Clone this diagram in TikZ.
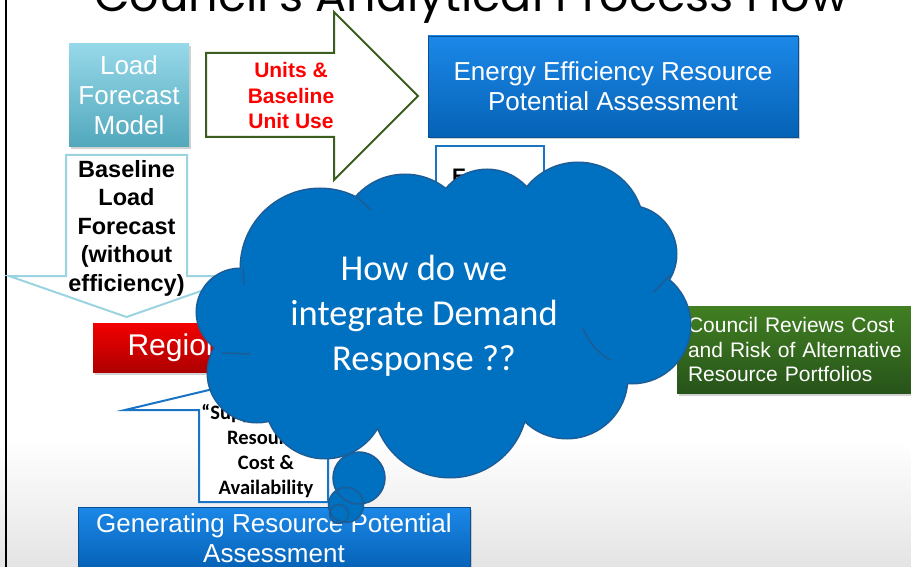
\documentclass[tikz,border=0pt]{standalone}
\usepackage{fontspec}
\setmainfont{Liberation Sans}
\newfontfamily\carlito{Carlito}
\newfontfamily\titlefont{Poppins}
\usetikzlibrary{shadows}
\definecolor{bluetop}{HTML}{1C88E8}
\definecolor{bluebot}{HTML}{0562B6}
\definecolor{blueedge}{HTML}{0A4F8F}
\definecolor{loadtop}{HTML}{96D8E9}
\definecolor{loadbot}{HTML}{52A8BC}
\definecolor{redtop}{HTML}{F20000}
\definecolor{redbot}{HTML}{AE0000}
\definecolor{greentop}{HTML}{417F22}
\definecolor{greenbot}{HTML}{27541A}
\definecolor{arrowgreen}{HTML}{3B5E1F}
\definecolor{arrowcyan}{HTML}{9CD3E0}
\definecolor{arrowblue}{HTML}{1A74C6}
\definecolor{cloudfill}{HTML}{0070C0}
\definecolor{cloudedge}{HTML}{1E5C96}
\definecolor{bggray}{HTML}{E4E4E4}
\definecolor{unitred}{HTML}{FF0000}
\newcommand\cloudlist{240/312/43, 320/268/79, 405/240/65, 487/223/53, 578/228/65, 628/254/48, 632/325/58, 567/378/60, 450/400/77, 325/398/60, 257/373/49}
\begin{document}
\begin{tikzpicture}[x=1pt,y=-1pt,
  box/.style={inner sep=0pt, align=center, text=white,
    drop shadow={shadow xshift=1.5pt,shadow yshift=-2.5pt,opacity=0.35}},
  bluebox/.style={box, top color=bluetop, bottom color=bluebot, draw=blueedge, line width=0.6pt},
  bigtext/.style={font=\fontsize{26}{30}\selectfont},
  arrowtext/.style={align=center, inner sep=0pt, font=\bfseries\fontsize{23.5}{28.5}\selectfont},
  blockarrow/.style={fill=white, line width=2pt, line join=miter},
]
\useasboundingbox (0,0) rectangle (911,567);
\fill[white] (0,0) rectangle (911,567);
\shade[top color=white, bottom color=bggray] (0,440) rectangle (911,567);
\draw[line width=2pt] (6,-2) -- (6,569);

% title
\node[anchor=base west, inner sep=0pt] (title) at (94,12)
  {\resizebox{754pt}{!}{\titlefont Council’s Analytical Process Flow}};

% boxes
\node[box, bigtext, top color=loadtop, bottom color=loadbot, minimum width=120, minimum height=103] (load) at (129,95.5)
  {Load\\Forecast\\Model};
\node[bluebox, bigtext, minimum width=370, minimum height=101] (ee) at (613,86.5)
  {Energy Efficiency Resource\\Potential Assessment};
\node[bluebox, bigtext, minimum width=392, minimum height=62] (gen) at (274,538)
  {Generating Resource Potential\\Assessment};
\node[box, font=\fontsize{30}{34}\selectfont, top color=redtop, bottom color=redbot, minimum width=396, minimum height=49] (rpm) at (291,347.5)
  {Regional Portfolio Model};
\node[box, font=\fontsize{21}{24.5}\selectfont, top color=greentop, bottom color=greenbot,
  minimum width=248, minimum height=87, text width=226, inner xsep=11pt, align=left] (council) at (801,349.5)
  {Council Reviews Cost\\and Risk of Alternative\\Resource Portfolios};

% small box behind cloud
\draw[arrowblue, line width=2pt, fill=white] (436,146) rectangle (544,262);
\node[anchor=base west, inner sep=0pt, font=\bfseries\fontsize{21}{25}\selectfont] (etext) at (452,184) {E};

% block arrows
\draw[blockarrow, draw=arrowgreen] (206,53) -- (334,53) -- (334,12) -- (418,96) -- (334,180) -- (334,137) -- (206,137) -- cycle;
\node[arrowtext, text=unitred, font=\bfseries\fontsize{21}{25.5}\selectfont] (units) at (291,95.5) {Units \&\\Baseline\\Unit Use};

\draw[blockarrow, draw=arrowcyan] (66,155) -- (187,155) -- (187,276) -- (244,276) -- (126.5,317) -- (9,276) -- (66,276) -- cycle;
\node[arrowtext] (baseline) at (126.5,228) {Baseline\\Load\\Forecast\\(without\\efficiency)};

\draw[blockarrow, draw=arrowblue] (199,502) -- (199,410) -- (125,410) -- (263.5,377) -- (402,410) -- (328,410) -- (328,502) -- cycle;
\node[align=center, inner sep=0pt, font=\carlito\bfseries\fontsize{20.5}{25}\selectfont] (supply) at (266,451)
  {“Supply Curve”\\Resource\\Cost \&\\Availability};

% cloud: union of puffs
\draw[cloudedge, line width=3pt] foreach \x/\y/\r in \cloudlist {(\x,\y) circle (\r pt)};
\fill[cloudfill] foreach \x/\y/\r in \cloudlist {(\x,\y) circle (\r pt)} (445,320) ellipse (190pt and 110pt);
% interior puff seams
\draw[cloudedge, line width=1.5pt] (583,328) arc[start angle=-160, end angle=-118, radius=60pt];
\draw[cloudedge, line width=1.5pt] (670,275) -- (654,292);
\draw[cloudedge, line width=1.5pt] (357,197) -- (371,210);
\draw[cloudedge, line width=1.5pt] (243,268) -- (244,285);
\draw[cloudedge, line width=1.5pt] (222,353) -- (250,354);
% thought bubbles
\fill[cloudfill] (359,478) circle (26pt);
\fill[cloudfill] (346,505) circle (17.5pt);
\fill[cloudfill] (339,514) circle (9.5pt);
\begin{scope}
  \clip (359,478) circle (26pt);
  \draw[cloudedge, line width=3pt] foreach \x/\y/\r in \cloudlist {(\x,\y) circle (\r pt)};
  \fill[cloudfill] foreach \x/\y/\r in \cloudlist {(\x,\y) circle (\r pt)} (445,320) ellipse (190pt and 110pt);
\end{scope}
\draw[cloudedge, line width=1.5pt] (359,478) circle (26pt);
\draw[cloudedge, line width=1.5pt] (346,505) circle (17.5pt);
\draw[cloudedge, line width=1.5pt] (339,514) circle (9.5pt);
\node[align=center, inner sep=0pt, text=white, font=\carlito\fontsize{36.5}{45}\selectfont] (question) at (424,316)
  {How do we\\integrate Demand\\Response ??};
\end{tikzpicture}
\end{document}
